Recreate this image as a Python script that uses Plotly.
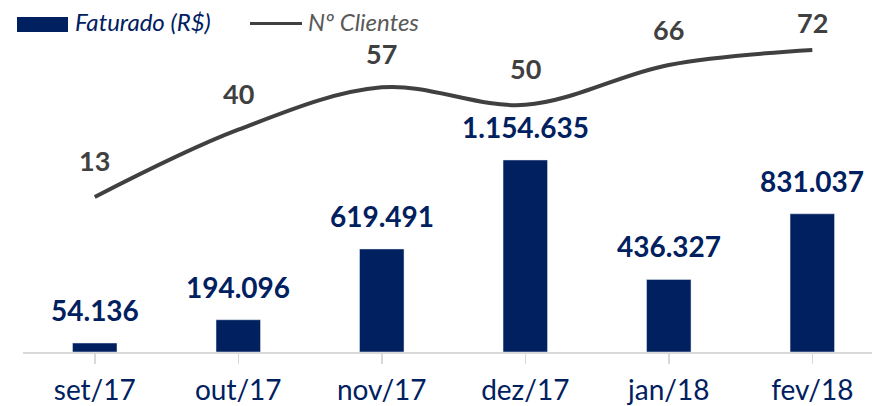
import plotly.graph_objects as go

months = ["set/17", "out/17", "nov/17", "dez/17", "jan/18", "fev/18"]
faturado = [54136, 194096, 619491, 1154635, 436327, 831037]
clientes = [13, 40, 57, 50, 66, 72]
faturado_labels = ["54.136", "194.096", "619.491", "1.154.635", "436.327", "831.037"]
series_names = ["Faturado (R$)", "Nº Clientes"]

NAVY = "#002060"
GRAY = "#404040"
FONT = "Lato"

W, H = 872, 406
ml, mr, mt, mb = 23, 0, 40, 54
pw, ph = W - ml - mr, H - mt - mb

x = list(range(len(months)))

fig = go.Figure()
fig.add_trace(go.Bar(x=x, y=faturado, name=series_names[0], marker_color=NAVY,
                     width=0.31, yaxis="y", showlegend=False, hoverinfo="skip"))
fig.add_trace(go.Scatter(x=x, y=clientes, name=series_names[1], mode="lines",
                         line=dict(color=GRAY, width=4, shape="spline", smoothing=1),
                         yaxis="y2", showlegend=False, hoverinfo="skip"))

ann = []
for i, (v, t) in enumerate(zip(faturado, faturado_labels)):
    ann.append(dict(x=i, y=v, xref="x", yref="y", text=f"<b>{t}</b>", showarrow=False,
                    yshift=33, yanchor="middle",
                    font=dict(family=FONT, size=28, color=NAVY)))
line_shift = [37, 36, 34, 36, 35, 27]
for i, v in enumerate(clientes):
    ann.append(dict(x=i, y=v, xref="x", yref="y2", text=f"<b>{v}</b>", showarrow=False,
                    yshift=line_shift[i], yanchor="middle",
                    font=dict(family=FONT, size=27, color=GRAY)))

def px2x(p):
    return (p - ml) / pw

def px2y(p):
    return (H - mb - p) / ph

# custom legend
shapes = [
    dict(type="rect", xref="paper", yref="paper", x0=px2x(17), x1=px2x(68),
         y0=px2y(32), y1=px2y(17), fillcolor=NAVY, line=dict(width=0)),
    dict(type="line", xref="paper", yref="paper", x0=px2x(250), x1=px2x(302),
         y0=px2y(23.5), y1=px2y(23.5), line=dict(color=GRAY, width=3)),
]
ann.append(dict(xref="paper", yref="paper", x=px2x(73), y=px2y(22), xanchor="left",
                yanchor="middle", showarrow=False, text=f"<i>{series_names[0]}</i>",
                font=dict(family=FONT, size=24, color=NAVY)))
ann.append(dict(xref="paper", yref="paper", x=px2x(306), y=px2y(22), xanchor="left",
                yanchor="middle", showarrow=False, text=f"<i>{series_names[1]}</i>",
                font=dict(family=FONT, size=24, color="#595959")))

fig.update_layout(
    width=W, height=H, margin=dict(l=ml, r=mr, t=mt, b=mb),
    paper_bgcolor="white", plot_bgcolor="white",
    xaxis=dict(tickmode="array", tickvals=x, ticktext=months, range=[-0.5, 5.416],
               tickson="boundaries", ticks="outside", ticklen=10, tickcolor="#d9d9d9",
               tickwidth=1.5, showline=True, linecolor="#d9d9d9", linewidth=1.5,
               showgrid=False, zeroline=False, ticklabelstandoff=3, automargin=False,
               tickfont=dict(family=FONT, size=28, color=NAVY)),
    yaxis=dict(range=[0, 1876000], visible=False, showgrid=False, zeroline=False),
    yaxis2=dict(range=[-49.2, 76.0], overlaying="y", visible=False, showgrid=False,
                zeroline=False),
    annotations=ann, shapes=shapes, showlegend=False,
)
fig.write_html("out.html", config={"displayModeBar": False, "staticPlot": True},
               post_script="document.body.style.margin='0';document.body.style.overflow='hidden';")
